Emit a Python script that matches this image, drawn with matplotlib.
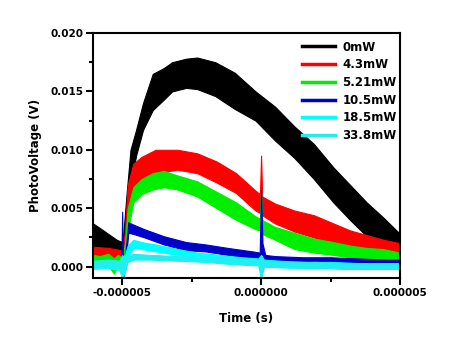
import numpy as np
import matplotlib
matplotlib.use("Agg")
import matplotlib.pyplot as plt
from matplotlib.lines import Line2D
from matplotlib.ticker import FuncFormatter, MultipleLocator

# ---- data (time in microseconds, envelope of the noisy traces in volts) ----
labels = ["0mW", "4.3mW", "5.21mW", "10.5mW", "18.5mW", "33.8mW"]
colors = ["#000000", "#ff0000", "#00ee00", "#0000cc", "#00ffff", "#22eeee"]

t_black = [-6.05, -5.8, -5.5, -5.2, -5.0, -4.95, -4.85, -4.7, -4.5, -4.25, -3.9, -3.5, -3.2,
           -2.7, -2.3, -1.65, -0.95, -0.2, 0.5, 1.2, 1.9, 2.6, 3.2, 3.8, 4.4, 5.0]
up_black = [0.0037, 0.0033, 0.0028, 0.0023, 0.0021, 0.0030, 0.0060, 0.0100, 0.0117, 0.0140,
            0.0165, 0.0170, 0.0175, 0.0178, 0.0179, 0.0175, 0.0166, 0.0150, 0.0137, 0.0120,
            0.0105, 0.0085, 0.0070, 0.0055, 0.0042, 0.0028]
lo_black = [0.0014, 0.0013, 0.0013, 0.0012, 0.0011, 0.0012, 0.0030, 0.0068, 0.0095, 0.0117,
            0.0134, 0.0143, 0.0150, 0.0153, 0.0152, 0.0146, 0.0135, 0.0125, 0.0108, 0.0093,
            0.0075, 0.0055, 0.0040, 0.0026, 0.0017, 0.0010]

t_red = [-6.05, -5.5, -5.0, -4.9, -4.8, -4.6, -4.3, -3.8, -3.0, -2.3, -1.6, -0.9, -0.2,
         -0.04, 0.0, 0.04, 0.5, 1.2, 1.9, 2.6, 3.2, 3.8, 4.4, 5.0]
up_red = [0.0017, 0.0016, 0.0014, 0.0030, 0.0070, 0.0088, 0.0094, 0.0100, 0.0100, 0.0097,
          0.0090, 0.0080, 0.0065, 0.0062, 0.0095, 0.0060, 0.0054, 0.0048, 0.0044, 0.0037,
          0.0031, 0.0027, 0.0023, 0.0020]
lo_red = [0.0006, 0.0006, 0.0005, 0.0010, 0.0045, 0.0068, 0.0075, 0.0080, 0.0083, 0.0080,
          0.0072, 0.0063, 0.0048, 0.0046, 0.0046, 0.0044, 0.0037, 0.0030, 0.0025, 0.0018,
          0.0014, 0.0011, 0.0008, 0.0006]

t_green = [-6.05, -5.8, -5.5, -5.3, -5.15, -5.0, -4.9, -4.8, -4.6, -4.3, -3.9, -3.5, -3.0,
           -2.3, -1.6, -0.9, -0.2, -0.04, 0.0, 0.04, 0.5, 1.2, 1.9, 2.6, 3.2, 3.8, 4.4, 5.0]
up_green = [0.0010, 0.0009, 0.0011, 0.0007, 0.0010, 0.0008, 0.0020, 0.0050, 0.0068, 0.0075,
            0.0080, 0.0082, 0.0078, 0.0073, 0.0064, 0.0055, 0.0043, 0.0041, 0.0066, 0.0040,
            0.0034, 0.0029, 0.0024, 0.0021, 0.0018, 0.0016, 0.0015, 0.0012]
lo_green = [0.0002, 0.0000, 0.0001, -0.0006, 0.0001, -0.0003, 0.0002, 0.0030, 0.0055, 0.0062,
            0.0066, 0.0068, 0.0066, 0.0060, 0.0050, 0.0040, 0.0032, 0.0031, 0.0031, 0.0028,
            0.0023, 0.0015, 0.0012, 0.0010, 0.0008, 0.0006, 0.0004, -0.0003]

t_blue = [-6.05, -5.1, -5.03, -5.0, -4.97, -4.92, -4.85, -4.78, -4.6, -4.2, -3.5, -2.7, -2.0,
          -1.2, -0.3, -0.05, 0.0, 0.05, 0.15, 0.5, 1.5, 2.5, 3.5, 4.5, 5.0]
up_blue = [0.0003, 0.0003, 0.0003, 0.0047, 0.0005, 0.0005, 0.0020, 0.0038, 0.0036, 0.0032,
           0.0026, 0.0021, 0.0019, 0.0016, 0.0013, 0.0012, 0.0066, 0.0020, 0.0010, 0.0009,
           0.0008, 0.0008, 0.0007, 0.0006, 0.0006]
lo_blue = [0.0000, 0.0000, 0.0000, -0.0010, -0.0010, -0.0005, 0.0010, 0.0029, 0.0028, 0.0025,
           0.0019, 0.0014, 0.0013, 0.0010, 0.0007, 0.0006, -0.0010, 0.0004, 0.0005, 0.0005,
           0.0005, 0.0004, 0.0003, 0.0002, 0.0002]

t_cyan1 = [-6.05, -5.5, -5.1, -5.0, -4.9, -4.8, -4.6, -4.3, -3.8, -3.0, -2.3, -1.5, -0.7,
           -0.1, 0.0, 0.1, 0.7, 1.5, 2.5, 3.5, 4.5, 5.0]
up_cyan1 = [0.0004, 0.0005, 0.0004, 0.0008, 0.0010, 0.0018, 0.0023, 0.0021, 0.0019, 0.0015,
            0.0012, 0.0010, 0.0008, 0.0007, 0.0010, 0.0006, 0.0005, 0.0004, 0.0004, 0.0003,
            0.0003, 0.0003]
lo_cyan1 = [-0.0002, -0.0001, -0.0003, -0.0008, -0.0005, 0.0008, 0.0016, 0.0015, 0.0013,
            0.0010, 0.0007, 0.0005, 0.0003, 0.0002, -0.0010, 0.0000, 0.0000, -0.0001, -0.0001,
            -0.0002, -0.0002, -0.0002]

t_cyan2 = [-6.05, -5.5, -5.1, -5.0, -4.9, -4.8, -4.6, -4.0, -3.0, -2.0, -1.0, -0.1, 0.0, 0.1,
           1.0, 2.0, 3.0, 4.0, 5.0]
up_cyan2 = [0.0005, 0.0006, 0.0005, 0.0010, 0.0006, 0.0009, 0.0011, 0.0010, 0.0009, 0.0008,
            0.0007, 0.0006, 0.0008, 0.0005, 0.0004, 0.0004, 0.0003, 0.0003, 0.0003]
lo_cyan2 = [-0.0001, 0.0000, -0.0003, -0.0010, -0.0004, 0.0004, 0.0006, 0.0006, 0.0005,
            0.0004, 0.0002, 0.0001, -0.0009, 0.0000, -0.0001, -0.0001, -0.0002, -0.0002,
            -0.0002]

series = [
    (t_black, up_black, lo_black),
    (t_red, up_red, lo_red),
    (t_green, up_green, lo_green),
    (t_blue, up_blue, lo_blue),
    (t_cyan1, up_cyan1, lo_cyan1),
    (t_cyan2, up_cyan2, lo_cyan2),
]

x_ticks = [-0.000005, 0.0, 0.000005]
y_ticks = [0.000, 0.005, 0.010, 0.015, 0.020]

# ---- figure ----
plt.rcParams['font.family'] = ['DejaVu Sans']
plt.rcParams['font.weight'] = 'bold'

fig = plt.figure(figsize=(4.51, 3.5), dpi=100)
ax = fig.add_axes([0.2062, 0.2049, 0.6807, 0.7008])

for (t, up, lo), c in zip(series, colors):
    t = np.asarray(t) * 1e-6
    ax.fill_between(t, lo, up, color=c, linewidth=0.8, edgecolor=c)

ax.set_xlim(-6.05e-6, 5.0e-6)
ax.set_ylim(-0.001, 0.020)
ax.set_xticks(x_ticks)
ax.set_yticks(y_ticks)
ax.xaxis.set_minor_locator(MultipleLocator(2.5e-6))
ax.yaxis.set_minor_locator(MultipleLocator(0.0025))
ax.xaxis.set_major_formatter(FuncFormatter(lambda v, p: f"{v:.6f}"))
ax.yaxis.set_major_formatter(FuncFormatter(lambda v, p: f"{v:.3f}"))

for s in ax.spines.values():
    s.set_linewidth(1.5)
ax.tick_params(which='major', direction='out', length=5, width=1.5, labelsize=7.5, pad=2)
ax.tick_params(which='minor', direction='out', length=3, width=1.5)
for lab in ax.get_xticklabels() + ax.get_yticklabels():
    lab.set_fontweight('bold')

ax.set_xlabel("Time (s)", fontsize=8.5, fontweight='bold', labelpad=10)
ax.set_ylabel("PhotoVoltage (V)", fontsize=8.5, fontweight='bold', labelpad=6)

handles = [Line2D([], [], color=c, linewidth=2.5) for c in colors]
leg = ax.legend(handles, labels, loc='upper left', bbox_to_anchor=(0.681, 0.969),
                frameon=False, fontsize=8.5, handlelength=2.8, handletextpad=0.6,
                labelspacing=0.40, borderpad=0, borderaxespad=0)
for txt in leg.get_texts():
    txt.set_fontweight('bold')

fig.savefig("out.png", dpi=100)
